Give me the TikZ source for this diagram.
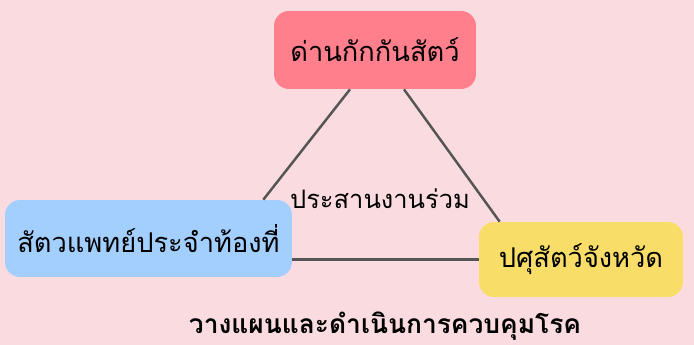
\documentclass[tikz,border=0pt]{standalone}
\usepackage{fontspec}
\newfontfamily\thaifont[Script=Thai]{Loma}
\usepackage{tikz}
\usetikzlibrary{calc}
\definecolor{bgpink}{HTML}{FADBE0}
\definecolor{boxred}{HTML}{FF7F8C}
\definecolor{boxblue}{HTML}{A3CFFF}
\definecolor{boxyellow}{HTML}{F8DE68}
\definecolor{linkgray}{HTML}{555555}
\tikzstyle{unit}=[rounded corners=0.3cm, inner sep=0pt, font=\thaifont\fontsize{15.5}{18}\selectfont, text=black]
\tikzstyle{link}=[draw=linkgray, line width=1.4pt]

\begin{document}
\begin{tikzpicture}[x=0.02cm,y=-0.02cm]
\fill[bgpink] (0,0) rectangle (694,345);
\useasboundingbox (0,0) rectangle (694,345);
\node[unit, fill=boxred, minimum width=4.04cm, minimum height=1.56cm] (quarantine) at (375,50) {ด่านกักกันสัตว์};
\node[unit, fill=boxblue, minimum width=5.74cm, minimum height=1.54cm] (localvet) at (148.5,238.5) {สัตวแพทย์ประจำท้องที่};
\node[unit, fill=boxyellow, minimum width=4.08cm, minimum height=1.5cm] (provvet) at (581,259.5) {ปศุสัตว์จังหวัด};
\draw[link] ([xshift=-0.5cm]quarantine.south) -- ([xshift=-0.58cm]localvet.north east);
\draw[link] ([xshift=0.58cm]quarantine.south) -- ([xshift=0.42cm]provvet.north west);
\draw[link] (provvet.west) -- (provvet.west -| localvet.east);
\node[font=\thaifont\fontsize{14.5}{17}\selectfont] (joint) at (380,199) {ประสานงานร่วม};
\node[font=\thaifont\bfseries\fontsize{15}{18}\selectfont] (plan) at (385,326) {วางแผนและดำเนินการควบคุมโรค};
\end{tikzpicture}
\end{document}
